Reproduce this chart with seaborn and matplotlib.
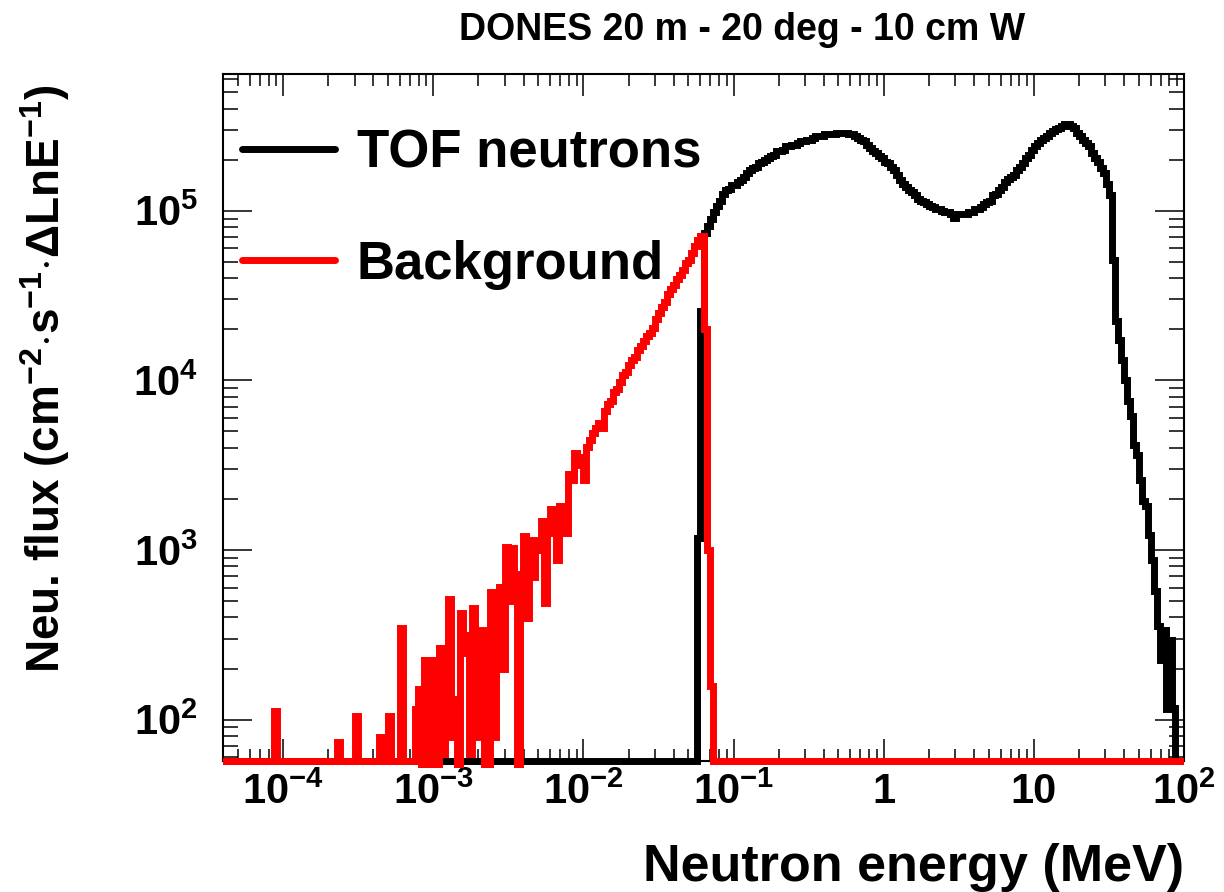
import numpy as np
import pandas as pd
import matplotlib
matplotlib.use("Agg")
import matplotlib.pyplot as plt
import seaborn as sns
from matplotlib.lines import Line2D
from matplotlib.ticker import LogLocator, NullFormatter
from matplotlib.transforms import Bbox, TransformedBbox

# ---- binning: logarithmic bins, 50 per decade, 10^-4.4 .. 10^2 MeV ----
LOG_E_LOW, LOG_E_HIGH, BINS_PER_DECADE = -4.4, 2.0, 50

# ---- TOF neutrons: log10(flux) per bin, first filled bin starts at 10^-1.24 MeV ----
tof_first_log_e = -1.24
tof_log_flux = [
    3.07, 4.41, 4.87, 4.91, 4.95, 4.99, 5.03, 5.06, 5.10, 5.12,
    5.13, 5.15, 5.15, 5.17, 5.18, 5.20, 5.22, 5.24, 5.25, 5.26,
    5.28, 5.29, 5.30, 5.31, 5.32, 5.33, 5.35, 5.35, 5.36, 5.38,
    5.38, 5.39, 5.39, 5.40, 5.41, 5.41, 5.42, 5.42, 5.43, 5.44,
    5.44, 5.44, 5.45, 5.45, 5.45, 5.45, 5.46, 5.46, 5.46, 5.46,
    5.45, 5.45, 5.44, 5.43, 5.42, 5.41, 5.39, 5.37, 5.35, 5.34,
    5.32, 5.31, 5.29, 5.28, 5.26, 5.24, 5.21, 5.18, 5.16, 5.14,
    5.12, 5.11, 5.09, 5.07, 5.06, 5.05, 5.04, 5.03, 5.02, 5.01,
    5.01, 5.00, 4.99, 4.99, 4.98, 4.96, 4.98, 4.98, 4.98, 4.98,
    4.99, 4.99, 5.01, 5.01, 5.02, 5.04, 5.05, 5.06, 5.09, 5.10,
    5.12, 5.14, 5.17, 5.19, 5.20, 5.21, 5.24, 5.26, 5.28, 5.31,
    5.33, 5.36, 5.38, 5.40, 5.42, 5.43, 5.44, 5.46, 5.47, 5.48,
    5.49, 5.50, 5.51, 5.51, 5.50, 5.49, 5.46, 5.44, 5.42, 5.40,
    5.38, 5.34, 5.31, 5.29, 5.25, 5.22, 5.16, 5.09, 4.71, 4.35,
    4.24, 4.12, 4.00, 3.88, 3.79, 3.62, 3.56, 3.41, 3.29, 3.26,
    3.09, 2.94, 2.76, 2.55, 2.35, 2.53, 2.06, 2.47, 2.07,
]

# ---- Background: log10(flux) per bin, first filled bin starts at 10^-3.12 MeV ----
bkg_first_log_e = -3.12
bkg_log_flux = [
    2.06, 2.18, 1.60, 2.35, 2.33, 1.50, 2.35, 1.70, 2.42, 1.80,
    2.42, 2.71, 1.90, 2.12, 1.60, 2.63, 2.50, 2.39, 1.80, 2.66,
    2.45, 1.90, 2.53, 1.50, 1.60, 2.75, 1.90, 2.60, 2.78, 2.30,
    3.02, 2.70, 3.01, 2.86, 1.60, 2.80, 3.08, 2.60, 3.06, 2.84,
    3.00, 3.06, 3.17, 2.69, 3.10, 3.24, 3.18, 2.94, 3.26, 3.25,
    3.10, 3.45, 3.41, 3.57, 3.50, 3.55, 3.41, 3.61, 3.65, 3.69,
    3.72, 3.75, 3.72, 3.82, 3.86, 3.88, 3.93, 3.95, 3.99, 4.03,
    4.05, 4.09, 4.12, 4.14, 4.18, 4.20, 4.23, 4.26, 4.28, 4.31,
    4.36, 4.40, 4.43, 4.46, 4.51, 4.54, 4.56, 4.60, 4.62, 4.65,
    4.69, 4.71, 4.75, 4.79, 4.83, 4.85, 4.30, 3.00, 2.20,
]
# isolated low-energy background bins: lower bin edge log10(E), log10(flux)
bkg_isolated_log_e = [-4.06, -3.64, -3.52, -3.36, -3.30, -3.22]
bkg_isolated_log_flux = [2.05, 1.87, 2.02, 1.90, 2.02, 2.54]

series_labels = ["TOF neutrons", "Background"]
series_colors = ["#000000", "#ff0000"]

x_ticks = [1e-4, 1e-3, 1e-2, 1e-1, 1, 10, 100]
x_tick_labels = [r"$10^{-4}$", r"$10^{-3}$", r"$10^{-2}$", r"$10^{-1}$",
                 "1", "10", r"$10^{2}$"]
y_ticks = [1e2, 1e3, 1e4, 1e5]
y_tick_labels = [r"$10^{2}$", r"$10^{3}$", r"$10^{4}$", r"$10^{5}$"]
Y_MIN, Y_MAX = 57.0, 6.4e5

title = "DONES 20 m - 20 deg - 10 cm W"
x_label = "Neutron energy (MeV)"
y_label = (r"Neu. flux (cm$^{-2}$$\cdot$s$^{-1}$$\cdot$"
           r"$\mathrm{\Delta}$LnE$^{-1}$)")

# ---- build per-bin contents ----
n_bins = int(round((LOG_E_HIGH - LOG_E_LOW) * BINS_PER_DECADE))
edges = 10.0 ** np.linspace(LOG_E_LOW, LOG_E_HIGH, n_bins + 1)


def fill_bins(content, first_log_e, log_values):
    i0 = int(round((first_log_e - LOG_E_LOW) * BINS_PER_DECADE))
    content[i0:i0 + len(log_values)] = 10.0 ** np.asarray(log_values)


tof = np.zeros(n_bins)
fill_bins(tof, tof_first_log_e, tof_log_flux)
bkg = np.zeros(n_bins)
fill_bins(bkg, bkg_first_log_e, bkg_log_flux)
for le, lf in zip(bkg_isolated_log_e, bkg_isolated_log_flux):
    fill_bins(bkg, le, [lf])


def step_values(content):
    # empty bins sit on the lower frame edge, as in a log-scale histogram
    y = np.where(content > 0, content, Y_MIN)
    return np.append(y, y[-1])


df = pd.DataFrame({"energy": edges,
                   "tof": step_values(tof),
                   "bkg": step_values(bkg)})

# ---- style ----
sns.set_style("ticks")
plt.rcParams["font.family"] = ["Liberation Sans", "DejaVu Sans"]
plt.rcParams["font.weight"] = "bold"
for key in ["text.color", "axes.labelcolor", "xtick.color", "ytick.color",
            "axes.edgecolor"]:
    plt.rcParams[key] = "black"
plt.rcParams["mathtext.fontset"] = "custom"
plt.rcParams["mathtext.rm"] = "Liberation Sans"
plt.rcParams["mathtext.bf"] = "Liberation Sans:bold"
plt.rcParams["mathtext.it"] = "Liberation Sans:bold"
plt.rcParams["mathtext.default"] = "bf"

fig = plt.figure(figsize=(12.24, 8.92), dpi=100)
ax = fig.add_axes([223 / 1224, 131 / 892, 961 / 1224, 687 / 892])
ax.set_xscale("log")
ax.set_yscale("log")

LW = 5.0
clip = TransformedBbox(Bbox.from_extents(0.0, -0.01, 1.0, 1.0), ax.transAxes)
for col, color in zip(["tof", "bkg"], series_colors):
    sns.lineplot(data=df, x="energy", y=col, drawstyle="steps-post",
                 estimator=None, sort=False, color=color, linewidth=LW,
                 solid_joinstyle="miter", ax=ax)
    ax.lines[-1].set_clip_box(clip)
    ax.lines[-1].set_zorder(3)

ax.set_xlim(10.0 ** LOG_E_LOW, 10.0 ** LOG_E_HIGH)
ax.set_ylim(Y_MIN, Y_MAX)

# ---- axes decoration ----
for sp in ax.spines.values():
    sp.set_linewidth(1.5)
    sp.set_color("black")

ax.set_xticks(x_ticks, x_tick_labels)
ax.set_yticks(y_ticks, y_tick_labels)
ax.xaxis.set_minor_locator(LogLocator(base=10, subs=np.arange(2, 10), numticks=100))
ax.yaxis.set_minor_locator(LogLocator(base=10, subs=np.arange(2, 10), numticks=100))
ax.xaxis.set_minor_formatter(NullFormatter())
ax.yaxis.set_minor_formatter(NullFormatter())
ax.tick_params(which="both", direction="in", top=True, right=True,
               color="black", width=1.1, labelsize=30, labelcolor="black")
ax.tick_params(axis="x", which="major", length=16, pad=8)
ax.tick_params(axis="x", which="minor", length=8.6)
ax.tick_params(axis="y", which="major", length=21, pad=18)
ax.tick_params(axis="y", which="minor", length=11)

ax.set_xlabel(x_label, fontsize=37.5, fontweight="bold", loc="right")
ax.xaxis.set_label_coords(1.0, -0.12)
ax.set_ylabel(y_label, fontsize=33, fontweight="bold", loc="top")
ax.yaxis.set_label_coords(-0.157, 0.985)

handles = [Line2D([], [], color=c, lw=LW) for c in series_colors]
ax.legend(handles, series_labels, loc="upper left", bbox_to_anchor=(0.02, 0.92),
          frameon=False, fontsize=38, handlelength=1.75, handletextpad=0.42,
          labelspacing=1.15, borderpad=0, borderaxespad=0)

fig.text(0.606, 0.966, title, ha="center", va="center", fontsize=27,
         fontweight="bold")

fig.savefig("out.png", dpi=100)
